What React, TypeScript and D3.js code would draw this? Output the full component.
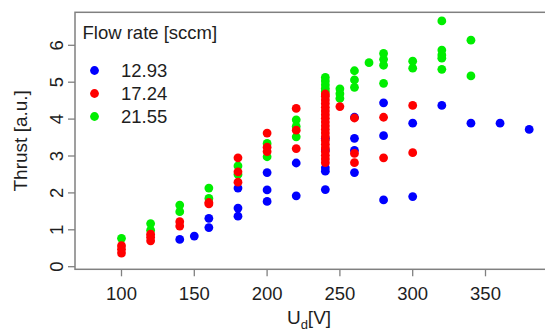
import React, { useRef, useEffect } from "react";
import { select, scaleLinear } from "d3";

// [U_d in V, thrust in a.u.] per flow rate
const flow1293: [number, number][] = [
  [140, 0.74], [150, 0.83], [160, 1.06], [160, 1.31],
  [180, 1.37], [180, 1.59], [180, 2.13],
  [200, 1.77], [200, 2.08], [200, 2.55],
  [220, 1.92], [220, 2.81],
  [240, 2.09], [240, 2.59], [240, 2.68], [240, 3.16], [240, 3.48],
  [260, 2.55], [260, 3.15], [260, 3.48], [260, 4.05],
  [280, 1.81], [280, 3.55], [280, 4.44],
  [300, 1.9], [300, 3.89],
  [320, 4.37], [340, 3.89], [360, 3.89], [380, 3.72],
];

const flow2155: [number, number][] = [
  [100, 0.77], [120, 0.99], [120, 1.17],
  [140, 1.49], [140, 1.67], [160, 1.85], [160, 2.13],
  [180, 2.5], [180, 2.73], [200, 2.98], [200, 3.34],
  [220, 3.52], [220, 3.8], [220, 3.98],
  [240, 4.75], [240, 4.83], [240, 4.93], [240, 5.03], [240, 5.13],
  [250, 4.56], [250, 4.69], [250, 4.82],
  [260, 4.86], [260, 5.06], [260, 5.31],
  [270, 5.53],
  [280, 4.97], [280, 5.46], [280, 5.62], [280, 5.78],
  [300, 5.38], [300, 5.57],
  [320, 5.35], [320, 5.65], [320, 5.74], [320, 5.87], [320, 6.66],
  [340, 5.17], [340, 6.14],
];

const flow1724: [number, number][] = [
  [100, 0.37], [100, 0.47], [100, 0.57],
  [120, 0.7], [120, 0.8], [120, 0.88],
  [140, 1.1], [140, 1.22], [160, 1.7], [160, 1.74],
  [180, 2.29], [180, 2.57], [180, 2.95],
  [200, 3.12], [200, 3.24], [200, 3.62],
  [220, 3.2], [220, 3.7], [220, 4.29],
  [240, 2.82], [240, 2.92], [240, 3.02], [240, 3.12], [240, 3.22], [240, 3.32],
  [240, 3.42], [240, 3.52], [240, 3.62], [240, 3.72], [240, 3.82], [240, 3.92],
  [240, 4.02], [240, 4.12], [240, 4.22], [240, 4.32], [240, 4.42], [240, 4.52],
  [240, 4.62], [240, 4.68],
  [250, 4.34],
  [260, 2.82], [260, 3.07], [260, 4.03],
  [280, 2.95], [280, 4.05],
  [300, 3.09], [300, 4.37],
];

const legendLabels = ["12.93", "17.24", "21.55"];
const legendColors = ["#0000ff", "#ff0000", "#00ee00"];
const xTicks = [100, 150, 200, 250, 300, 350];
const yTicks = [0, 1, 2, 3, 4, 5, 6];

const App = () => {
  const width = 545;
  const height = 331;
  const svgRef = useRef<SVGSVGElement>(null);

  useEffect(() => {
    const svg = select(svgRef.current);
    svg.selectAll("*").remove();

    const font = "'Liberation Sans', Arial, sans-serif";
    const ink = "#1e1e1e";
    const axisGrey = "#808080";

    const box = { left: 75, top: 12.3, right: 560, bottom: 269.3 };

    const xScale = scaleLinear().domain([100, 350]).range([121.5, 485.5]);
    const yScale = scaleLinear().domain([0, 6]).range([266.7, 45.3]);

    // points: blue, green, red (red lies on top of the others)
    const series = [
      { data: flow1293, color: legendColors[0] },
      { data: flow2155, color: legendColors[2] },
      { data: flow1724, color: legendColors[1] },
    ];
    series.forEach((s) => {
      svg.append("g")
        .selectAll("circle")
        .data(s.data)
        .enter()
        .append("circle")
        .attr("cx", (d) => xScale(d[0]))
        .attr("cy", (d) => yScale(d[1]))
        .attr("r", 4.4)
        .attr("fill", s.color);
    });

    // box
    svg.append("rect")
      .attr("x", box.left)
      .attr("y", box.top)
      .attr("width", box.right - box.left)
      .attr("height", box.bottom - box.top)
      .attr("fill", "none")
      .attr("stroke", axisGrey)
      .attr("stroke-width", 1.5);

    // x axis ticks + labels
    const xg = svg.append("g");
    xg.selectAll("line")
      .data(xTicks)
      .enter()
      .append("line")
      .attr("x1", (d) => xScale(d))
      .attr("x2", (d) => xScale(d))
      .attr("y1", box.bottom)
      .attr("y2", box.bottom + 7)
      .attr("stroke", axisGrey)
      .attr("stroke-width", 1.3);
    xg.selectAll("text")
      .data(xTicks)
      .enter()
      .append("text")
      .attr("x", (d) => xScale(d))
      .attr("y", 300)
      .attr("text-anchor", "middle")
      .attr("font-family", font)
      .attr("font-size", 18.5)
      .attr("fill", ink)
      .text((d) => String(d));

    // y axis ticks + rotated labels
    const yg = svg.append("g");
    yg.selectAll("line")
      .data(yTicks)
      .enter()
      .append("line")
      .attr("x1", box.left - 7)
      .attr("x2", box.left)
      .attr("y1", (d) => yScale(d))
      .attr("y2", (d) => yScale(d))
      .attr("stroke", axisGrey)
      .attr("stroke-width", 1.3);
    yg.selectAll("text")
      .data(yTicks)
      .enter()
      .append("text")
      .attr("transform", (d) => "translate(63," + yScale(d) + ") rotate(-90)")
      .attr("text-anchor", "middle")
      .attr("font-family", font)
      .attr("font-size", 18.5)
      .attr("fill", ink)
      .text((d) => String(d));

    // axis titles
    svg.append("text")
      .attr("transform", "translate(27," + (box.top + box.bottom) / 2 + ") rotate(-90)")
      .attr("text-anchor", "middle")
      .attr("font-family", font)
      .attr("font-size", 19)
      .attr("fill", ink)
      .text("Thrust [a.u.]");

    const xt = svg.append("text")
      .attr("x", 309)
      .attr("y", 324)
      .attr("text-anchor", "middle")
      .attr("font-family", font)
      .attr("font-size", 19)
      .attr("fill", ink);
    xt.append("tspan").text("U");
    xt.append("tspan").attr("font-size", 13).attr("dy", 5).text("d");
    xt.append("tspan").attr("dy", -5).text("[V]");

    // legend
    svg.append("text")
      .attr("x", 82.5)
      .attr("y", 38.5)
      .attr("font-family", font)
      .attr("font-size", 18.5)
      .attr("fill", ink)
      .text("Flow rate [sccm]");
    const legendY = [70.5, 93.5, 116.5];
    legendLabels.forEach((lab, i) => {
      svg.append("circle")
        .attr("cx", 94.5)
        .attr("cy", legendY[i])
        .attr("r", 4.4)
        .attr("fill", legendColors[i]);
      svg.append("text")
        .attr("x", 121)
        .attr("y", legendY[i] + 6.6)
        .attr("font-family", font)
        .attr("font-size", 18.5)
        .attr("fill", ink)
        .text(lab);
    });
  }, []);

  return (
    <div style={{ position: "absolute", left: 0, top: 0, background: "#fff" }}>
      <svg ref={svgRef} width={width} height={height} style={{ display: "block" }} />
    </div>
  );
};

export default App;
